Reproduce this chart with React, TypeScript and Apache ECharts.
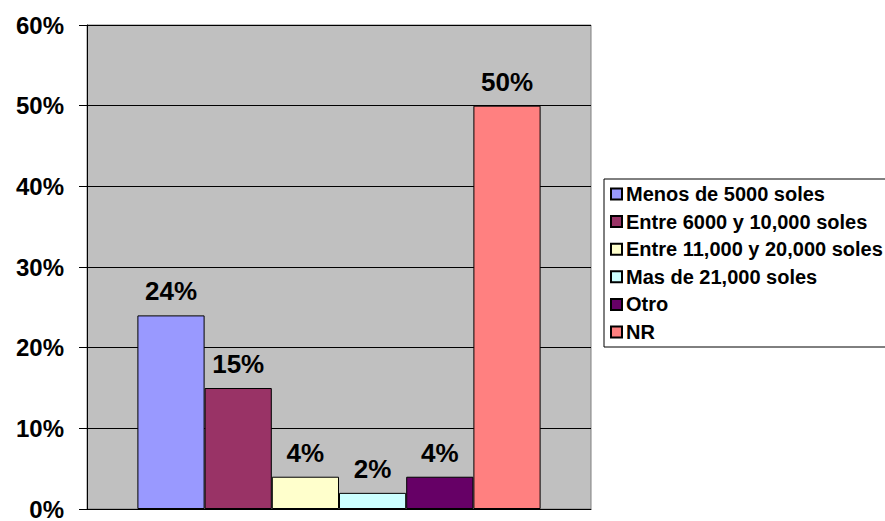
import React, { useEffect, useRef } from "react";
import * as echarts from "echarts";

const seriesNames = [
  "Menos de 5000 soles",
  "Entre 6000 y 10,000 soles",
  "Entre 11,000 y 20,000 soles",
  "Mas de 21,000 soles",
  "Otro",
  "NR",
];
const seriesValues = [24, 15, 4, 2, 4, 50];
const seriesColors = ["#9999FF", "#993366", "#FFFFCC", "#CCFFFF", "#660066", "#FF8080"];
const categories = [""];
const yTicks = { min: 0, max: 60, interval: 10 };

export default function App() {
  const ref = useRef<HTMLDivElement>(null);
  useEffect(() => {
    if (!ref.current) return;
    const chart = echarts.init(ref.current, null, { renderer: "svg" });
    const font = "'Liberation Sans', Arial, sans-serif";
    chart.setOption({
      animation: false,
      backgroundColor: "#ffffff",
      textStyle: { fontFamily: font },
      grid: {
        left: 87,
        right: 294,
        top: 25,
        bottom: 9,
        show: true,
        backgroundColor: "#C0C0C0",
        borderColor: "#808080",
        borderWidth: 1,
      },
      legend: {
        orient: "vertical",
        left: 604,
        top: 179,
        padding: [5, 60, 5, 6],
        borderColor: "#000000",
        borderWidth: 1,
        backgroundColor: "#ffffff",
        itemWidth: 11,
        itemHeight: 11,
        itemGap: 7.6,
        icon: "rect",
        textStyle: {
          fontFamily: font,
          fontWeight: 700,
          fontSize: 20,
          color: "#000000",
          padding: [0, 0, 0, -1],
        },
        data: seriesNames,
      },
      xAxis: {
        type: "category",
        data: categories,
        axisLine: { show: true, lineStyle: { color: "#000000" } },
        axisTick: { show: false },
        axisLabel: { show: false },
      },
      yAxis: {
        type: "value",
        min: yTicks.min,
        max: yTicks.max,
        interval: yTicks.interval,
        axisLine: { show: true, lineStyle: { color: "#000000" } },
        axisTick: { show: true, length: 8, lineStyle: { color: "#000000" } },
        axisLabel: {
          formatter: "{value}%",
          fontFamily: font,
          fontWeight: "bold",
          fontSize: 24,
          color: "#000000",
          margin: 23,
        },
        splitLine: { show: true, lineStyle: { color: "#000000", width: 1 } },
      },
      series: seriesNames.map((name, i) => ({
        name,
        type: "bar",
        data: [seriesValues[i]],
        barGap: "0%",
        barCategoryGap: "20%",
        itemStyle: { color: seriesColors[i], borderColor: "#000000", borderWidth: 1 },
        label: {
          show: true,
          position: "top",
          distance: 11,
          formatter: "{c}%",
          fontFamily: font,
          fontWeight: "bold",
          fontSize: 26,
          color: "#000000",
        },
      })),
    });
    return () => chart.dispose();
  }, []);
  return (
    <div
      ref={ref}
      style={{ position: "fixed", left: 0, top: 0, width: 885, height: 521 }}
    />
  );
}
